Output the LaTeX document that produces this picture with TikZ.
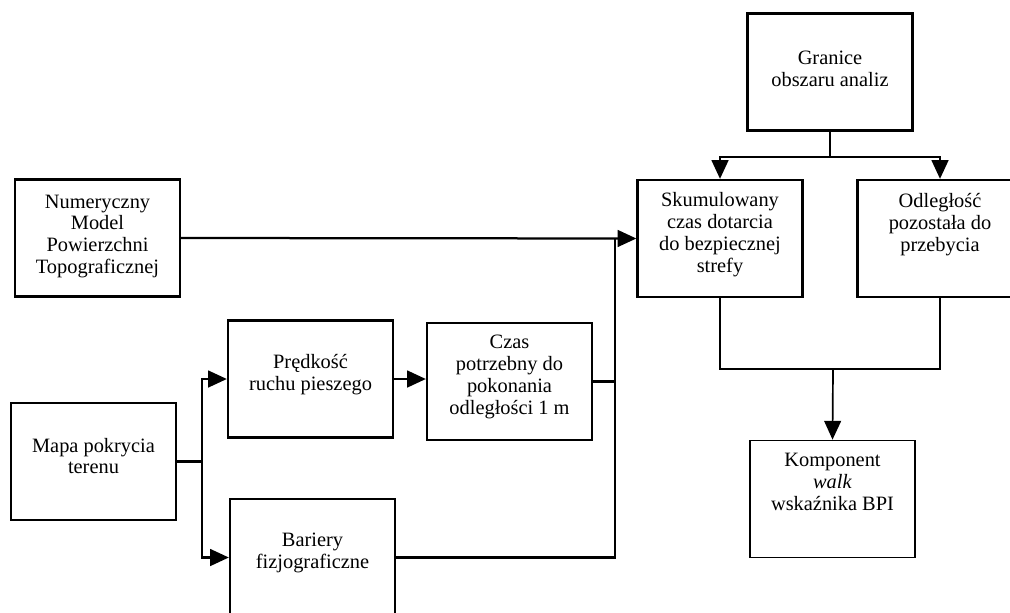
\documentclass[tikz,border=0pt]{standalone}
\usepackage{fontspec}
\setmainfont{Liberation Serif}
\usetikzlibrary{arrows.meta}

\begin{document}
\begin{tikzpicture}[x=0.025cm,y=-0.025cm,
    box/.style={draw,line width=1.6pt,minimum width=4.125cm,minimum height=2.925cm,
        align=center,inner sep=2pt,font=\fontsize{14.5}{15.5}\selectfont},
    conn/.style={line width=1.6pt},
    arr/.style={conn,-{Triangle[length=0.47cm,width=0.42cm]}}]
    \useasboundingbox (0,0) rectangle (1010,612);

    \node[box] (granice) at (830,72) {Granice\\obszaru analiz\\[-11pt]};
    \node[box] (skum) at (720,238.5) {Skumulowany\\czas dotarcia\\do bezpiecznej\\strefy\\[-7pt]};
    \node[box] (odl) at (940,238.5) {Odległość\\pozostała do\\przebycia\\[7pt]};
    \node[box] (numer) at (97.5,238) {Numeryczny\\Model\\Powierzchni\\Topograficznej\\[-10pt]};
    \node[box] (mapa) at (93.5,461.5) {Mapa pokrycia\\terenu\\[-7.5pt]};
    \node[box] (predk) at (310.5,379) {Prędkość\\ruchu pieszego\\[-6pt]};
    \node[box] (czas) at (509.5,381.5) {Czas\\potrzebny do\\pokonania\\odległości 1 m\\[-6pt]};
    \node[box] (bariery) at (312.5,557.5) {Bariery\\fizjograficzne\\[-6pt]};
    \node[box,line width=1.2pt] (komp) at (832.5,499) {Komponent\\\textit{walk}\\wskaźnika BPI\\[9pt]};

    \coordinate (join) at (615,238.5);
    \coordinate (merge) at (833,369);

    \draw[arr] (granice.south) -- ++(0,25) -| (skum.north);
    \draw[arr] (granice.south) -- ++(0,25) -| (odl.north);
    \draw[arr] (numer.east) -- (skum.west);
    \draw[conn] (czas.east) -- (czas.east -| join);
    \draw[conn] (bariery.east) -| (join);
    \draw[arr] (mapa.east) -- ++(25,0) |- (predk.west);
    \draw[arr] (mapa.east) -- ++(25,0) |- (bariery.west);
    \draw[arr] (predk.east) -- (predk.east -| czas.west);
    \draw[conn] (skum.south) |- (merge) -| (odl.south);
    \draw[arr,line width=1.2pt] (merge) -- (komp.north);
\end{tikzpicture}
\end{document}
